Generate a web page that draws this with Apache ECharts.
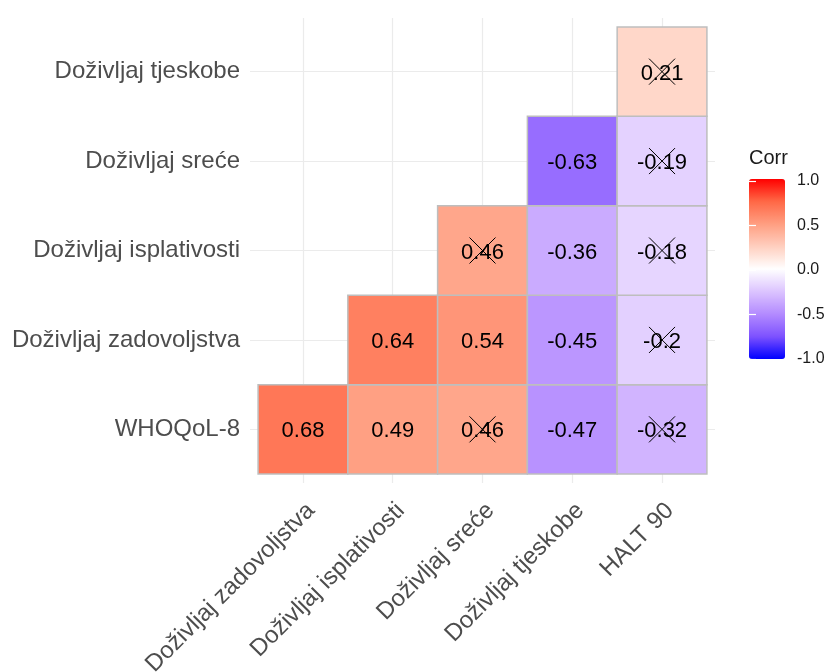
<!DOCTYPE html>
<html>
<head>
<meta charset="utf-8">
<title>Corr</title>
<script src="https://cdn.jsdelivr.net/npm/echarts@6/dist/echarts.min.js"></script>
<style>
  html, body { margin: 0; padding: 0; background: #fff; }
  #chart { width: 829px; height: 672px; }
</style>
</head>
<body>
<div id="chart"></div>
<script>
const xCats = ["Doživljaj zadovoljstva", "Doživljaj isplativosti", "Doživljaj sreće", "Doživljaj tjeskobe", "HALT 90"];
const yCats = ["WHOQoL-8", "Doživljaj zadovoljstva", "Doživljaj isplativosti", "Doživljaj sreće", "Doživljaj tjeskobe"];

// rows go bottom -> top (same order as yCats), columns follow xCats; null = empty cell
const corrRows = [
  [0.68, 0.49, 0.46, -0.47, -0.32],
  [null, 0.64, 0.54, -0.45, -0.2],
  [null, null, 0.46, -0.36, -0.18],
  [null, null, null, -0.63, -0.19],
  [null, null, null, null, 0.21]
];
// 1 = not significant, gets a cross
const crossed = [
  [0, 0, 1, 0, 1],
  [0, 0, 0, 0, 1],
  [0, 0, 1, 0, 1],
  [0, 0, 0, 0, 1],
  [0, 0, 0, 0, 1]
];
const legendTicks = [-1, -0.5, 0, 0.5, 1];

// blue - white - red, stops taken in Lab like ggplot's gradient2
const colorStops = ["#0000FF", "#7E52FF", "#B38BFF", "#DCC4FF", "#FFFFFF", "#FFCFBF", "#FF9E81", "#FF6846", "#FF0000"];
const FONT = '"Liberation Sans", Arial, sans-serif';
const labelShift = 0.09;

const cells = [];
corrRows.forEach((row, y) => {
  row.forEach((v, x) => {
    if (v !== null) cells.push([x, y, v, crossed[y][x]]);
  });
});

function renderTile(params, api) {
  const x = api.value(0);
  const y = api.value(1);
  const p0 = api.coord([x - 0.5, y + 0.5]);
  const p1 = api.coord([x + 0.5, y - 0.5]);
  const c = api.coord([x, y]);
  const children = [
    {
      type: "rect",
      shape: { x: p0[0], y: p0[1], width: p1[0] - p0[0], height: p1[1] - p0[1] },
      style: { fill: api.visual("color"), stroke: "#bebebe", lineWidth: 1.5 }
    },
    {
      type: "text",
      x: c[0],
      y: c[1] + 2,
      style: {
        text: String(api.value(2)),
        fill: "#000",
        fontSize: 22,
        fontFamily: FONT,
        align: "center",
        verticalAlign: "middle"
      }
    }
  ];
  if (api.value(3)) {
    const h = 13;
    children.push(
      { type: "line", shape: { x1: c[0] - h, y1: c[1] - h, x2: c[0] + h, y2: c[1] + h }, style: { stroke: "#000", lineWidth: 1 } },
      { type: "line", shape: { x1: c[0] - h, y1: c[1] + h, x2: c[0] + h, y2: c[1] - h }, style: { stroke: "#000", lineWidth: 1 } }
    );
  }
  return { type: "group", children: children };
}

const chart = echarts.init(document.getElementById("chart"));

const gridLine = { show: true, lineStyle: { color: "#ebebeb", width: 1.2 } };

const option = {
  animation: false,
  backgroundColor: "#fff",
  title: {
    text: "Corr",
    left: 749,
    top: 148,
    padding: 0,
    textStyle: { fontSize: 20, fontWeight: "normal", color: "#1a1a1a", fontFamily: FONT }
  },
  grid: [
    { left: 250, top: 18, width: 465, height: 465, outerBoundsMode: "none" },
    { left: 749, top: 181, width: 36, height: 178, outerBoundsMode: "none" }
  ],
  xAxis: [
    {
      type: "value",
      gridIndex: 0,
      min: -0.59,
      max: 4.59,
      axisLine: { show: false },
      axisTick: { show: false, customValues: xCats.map((_, i) => i) },
      splitLine: gridLine,
      axisLabel: {
        customValues: xCats.map((_, i) => i + labelShift),
        formatter: (v) => xCats[Math.round(v - labelShift)],
        rotate: 45,
        margin: 24,
        fontSize: 24,
        color: "#4d4d4d",
        fontFamily: FONT,
        showMinLabel: true,
        showMaxLabel: true
      }
    },
    { type: "value", gridIndex: 1, min: 0, max: 1, show: false }
  ],
  yAxis: [
    {
      type: "value",
      gridIndex: 0,
      min: -0.6,
      max: 4.6,
      axisLine: { show: false },
      axisTick: { show: false, customValues: yCats.map((_, i) => i) },
      splitLine: gridLine,
      axisLabel: {
        customValues: yCats.map((_, i) => i),
        formatter: (v) => yCats[Math.round(v)],
        margin: 10,
        padding: [4, 0, 0, 0],
        fontSize: 24,
        color: "#4d4d4d",
        fontFamily: FONT,
        showMinLabel: true,
        showMaxLabel: true
      }
    },
    {
      type: "value",
      gridIndex: 1,
      position: "right",
      min: -1,
      max: 1,
      z: 10,
      axisLine: { show: false },
      splitLine: { show: false },
      axisTick: { show: true, inside: true, length: 7, customValues: legendTicks, lineStyle: { color: "#fff", width: 1.2 } },
      axisLabel: {
        customValues: legendTicks,
        formatter: (v) => v.toFixed(1),
        margin: 12,
        fontSize: 16,
        color: "#1a1a1a",
        fontFamily: FONT,
        showMinLabel: true,
        showMaxLabel: true
      }
    },
    {
      type: "value",
      gridIndex: 1,
      position: "left",
      min: -1,
      max: 1,
      z: 10,
      axisLine: { show: false },
      splitLine: { show: false },
      axisTick: { show: true, inside: true, length: 7, customValues: legendTicks, lineStyle: { color: "#fff", width: 1.2 } },
      axisLabel: { show: false }
    }
  ],
  visualMap: {
    type: "continuous",
    min: -1,
    max: 1,
    dimension: 2,
    seriesIndex: 0,
    calculable: false,
    orient: "vertical",
    left: 749,
    top: 179,
    itemWidth: 36,
    itemHeight: 180,
    padding: 0,
    text: null,
    inRange: { color: colorStops }
  },
  series: [
    {
      type: "custom",
      xAxisIndex: 0,
      yAxisIndex: 0,
      renderItem: renderTile,
      data: cells,
      z: 2
    }
  ]
};

chart.setOption(option);
</script>
</body>
</html>
